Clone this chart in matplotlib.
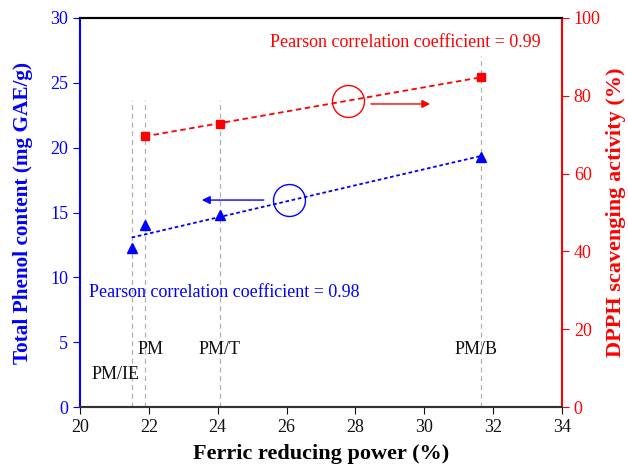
import matplotlib.pyplot as plt
import numpy as np

plt.rcParams['font.family'] = ['Liberation Serif', 'DejaVu Serif']

# samples and values
samples = ['PM/IE', 'PM', 'PM/T', 'PM/B']
frp = [21.5, 21.88, 24.07, 31.65]
phenol = [12.3, 14.0, 14.8, 19.3]
dpph_x = [21.88, 24.07, 31.65]
dpph = [69.7, 72.8, 84.8]
guide_top = [23.7, 23.7, 23.7, 27.1]
label_x = [21.02, 22.06, 24.04, 31.5]
label_y = [2.47, 4.4, 4.4, 4.4]

fig = plt.figure(figsize=(6.28, 4.66), dpi=100)
ax = fig.add_axes([80/628, 1 - 407/466, 482/628, 389/466])
ax2 = ax.twinx()

# vertical guide lines
for xv, yt in zip(frp, guide_top):
    ax.plot([xv, xv], [0, yt], ls=(0, (4, 3)), color='#b0b0b0', lw=0.9, zorder=1)
for s, lx, ly in zip(samples, label_x, label_y):
    ax.text(lx, ly, s, fontsize=13, ha='center', va='center', color='#111111')

# total phenol (left)
fit1 = np.polyfit(frp, phenol, 1)
xs1 = np.array([min(frp), max(frp)])
ax.plot(xs1, np.polyval(fit1, xs1), ls=(0, (2, 1.5)), color='blue', lw=1.3, zorder=3)
ax.plot(frp, phenol, '^', color='blue', ms=7, zorder=4)

# DPPH (right)
fit2 = np.polyfit(dpph_x, dpph, 1)
xs2 = np.array([min(dpph_x), max(dpph_x)])
ax2.plot(xs2, np.polyval(fit2, xs2), ls=(0, (3, 2)), color='red', lw=1.3, zorder=3)
ax2.plot(dpph_x, dpph, 's', color='red', ms=6, zorder=4)

ax.set_xlim(20, 34)
ax.set_ylim(0, 30)
ax2.set_ylim(0, 100)
ax.set_xticks(np.arange(20, 35, 2))
ax.set_yticks(np.arange(0, 31, 5))
ax2.set_yticks(np.arange(0, 101, 20))

ax.set_xlabel('Ferric reducing power (%)', fontsize=16, fontweight='bold', labelpad=6)
ax.set_ylabel('Total Phenol content (mg GAE/g)', fontsize=15.3, fontweight='bold',
              color='blue', labelpad=12)
ax2.set_ylabel('DPPH scavenging activity (%)', fontsize=16, fontweight='bold',
               color='red', labelpad=4)

ax.tick_params(axis='x', labelsize=13, direction='out', length=5, colors='#111111')
ax.tick_params(axis='y', labelsize=13, direction='out', length=5, colors='blue')
ax2.tick_params(axis='y', labelsize=13, direction='out', length=5, colors='red')
ax.spines['left'].set_color('blue')
ax2.spines['left'].set_visible(False)
ax2.spines['right'].set_color('red')
ax.spines['right'].set_visible(False)
ax2.spines['bottom'].set_color('#333333')
ax.spines['bottom'].set_color('#333333')
for sp in ax2.spines.values():
    sp.set_linewidth(1.5)
for sp in ax.spines.values():
    sp.set_linewidth(1.5)

# annotations
ax2.text(29.44, 93.6, 'Pearson correlation coefficient = 0.99', color='red',
         fontsize=13, ha='center', va='center')
ax.text(20.25, 8.8, 'Pearson correlation coefficient = 0.98', color='blue',
        fontsize=13, ha='left', va='center')

ax2.plot([27.78], [78.7], 'o', mfc='none', mec='red', mew=1, ms=23, zorder=5)
ax.plot([26.07], [15.96], 'o', mfc='none', mec='blue', mew=1, ms=23, zorder=5)
ax2.annotate('', xy=(30.17, 77.9), xytext=(28.45, 77.9),
             arrowprops=dict(arrowstyle='-|>', color='red', lw=1, mutation_scale=12,
                             shrinkA=0, shrinkB=0))
ax.annotate('', xy=(23.54, 15.96), xytext=(25.34, 15.96),
            arrowprops=dict(arrowstyle='-|>', color='blue', lw=1, mutation_scale=12,
                            shrinkA=0, shrinkB=0))

fig.savefig('out.png', dpi=100)
